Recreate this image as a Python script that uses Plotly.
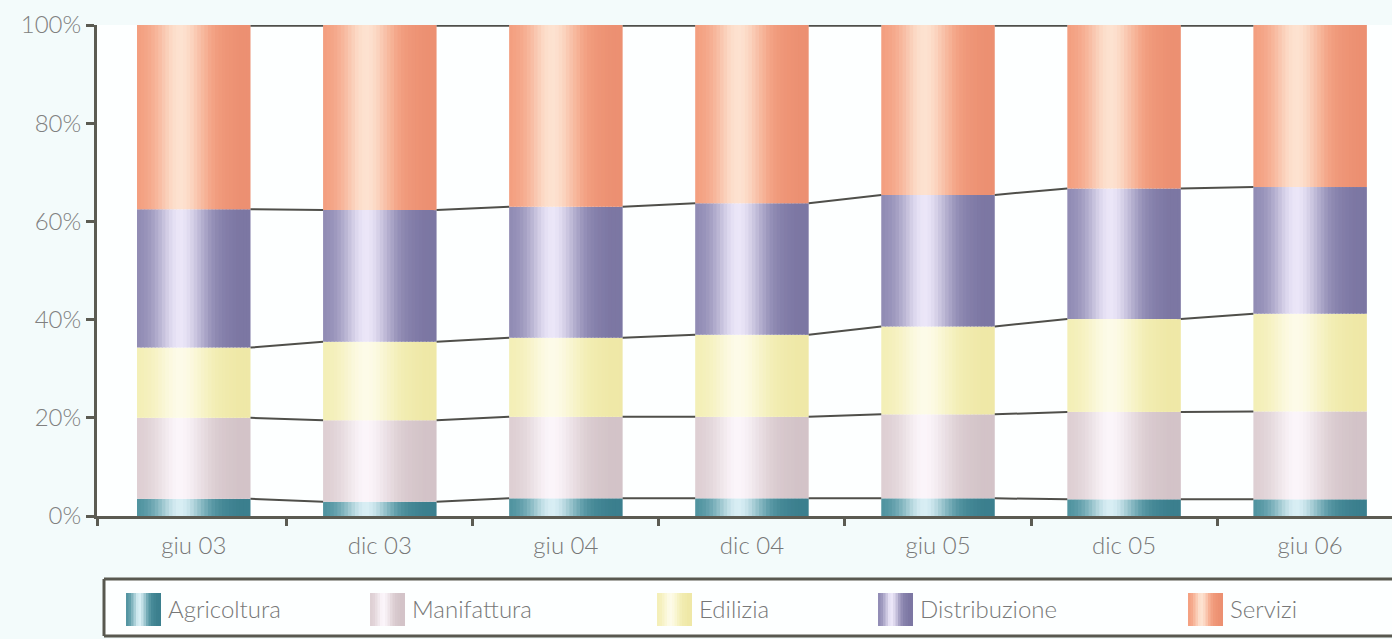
import numpy as np
import plotly.graph_objects as go

categories = ["giu 03", "dic 03", "giu 04", "dic 04", "giu 05", "dic 05", "giu 06"]
agricoltura = [3.5, 2.9, 3.6, 3.6, 3.6, 3.4, 3.4]
manifattura = [16.5, 16.6, 16.6, 16.6, 17.1, 17.8, 17.9]
edilizia = [14.3, 16.0, 16.1, 16.7, 17.9, 18.9, 19.9]
distribuzione = [28.2, 26.8, 26.7, 26.8, 26.8, 26.6, 25.8]
servizi = [37.5, 37.7, 37.0, 36.3, 34.6, 33.3, 33.0]
y_ticks = [0, 20, 40, 60, 80, 100]

series = [
    ("Agricoltura", agricoltura, "#4a8f9c", "#d8eef4", "#2f7282"),
    ("Manifattura", manifattura, "#dccdd1", "#fbf5fa", "#cbbbc0"),
    ("Edilizia", edilizia, "#f3eeb4", "#fdfbe8", "#ebe39c"),
    ("Distribuzione", distribuzione, "#8c87b1", "#ebe6f8", "#6f6997"),
    ("Servizi", servizi, "#f39c7c", "#fde2d0", "#e6876a"),
]

def hex2rgb(h):
    h = h.lstrip("#")
    return np.array([int(h[i:i + 2], 16) for i in (0, 2, 4)], dtype=float)

def rgb2str(c):
    c = np.clip(np.round(c), 0, 255).astype(int)
    return f"rgb({c[0]},{c[1]},{c[2]})"

def shade(base_c, hi_c, dark_c, t):
    b = hex2rgb(base_c); h = hex2rgb(hi_c); d = hex2rgb(dark_c)
    g = np.exp(-((t - 0.38) / 0.21) ** 2)
    col = b + (h - b) * g
    s = np.clip((t - 0.6) / 0.3, 0, 1) * 0.55
    return rgb2str(col + (d - col) * s)

xpos = np.arange(len(categories))
bar_w = 0.61
n_strips = 32
strip_w = bar_w / n_strips

fig = go.Figure()

values = np.array([s[1] for s in series], dtype=float)
cum_top = np.cumsum(values, axis=0)
cum_base = cum_top - values

for si, (name, vals, base_c, hi_c, dark_c) in enumerate(series):
    for k in range(n_strips):
        t = (k + 0.5) / n_strips
        fig.add_trace(go.Bar(
            x=xpos, y=vals, base=cum_base[si],
            width=strip_w * 1.3 if k < n_strips - 1 else strip_w,
            offset=-bar_w / 2 + k * strip_w,
            marker=dict(color=shade(base_c, hi_c, dark_c, t), line=dict(width=0)),
            showlegend=False, hoverinfo="skip",
        ))

# connecting lines between bars at each boundary
levels = list(cum_top)
for li, lev in enumerate(levels):
    xs, ys = [], []
    for i in range(len(categories) - 1):
        xs += [xpos[i] + bar_w / 2, xpos[i + 1] - bar_w / 2, None]
        ys += [lev[i], lev[i + 1], None]
    is_top = li == len(levels) - 1
    fig.add_trace(go.Scatter(
        x=xs, y=ys, mode="lines",
        line=dict(color="#4f4f4a", width=3.5 if is_top else 2),
        showlegend=False, hoverinfo="skip", cliponaxis=False,
    ))

axis_col = "#5b5b52"
W, H = 1392, 639
ml, mr, mt, mb = 97, 0, 25, 123
pw = W - ml - mr
ph = H - mt - mb
xr = [-0.52, 6.44]

def px_x(p):
    return (p - ml) / pw

def px_y(p):
    return (H - mb - p) / ph

# legend layout (pixel placement of entries)
legend_text_x = [168, 412, 699, 920, 1230]
legend_mid_y = 609
sw_w, sw_gap = 35, 7
sw_y0, sw_y1 = 593, 626
box_l, box_t, box_b, box_r = 104, 579, 636, W

border = dict(color="#58584f", width=3)
shapes = [
    dict(type="rect", xref="paper", yref="paper",
         x0=px_x(box_l), x1=px_x(box_r), y0=px_y(box_b), y1=px_y(box_t),
         line=dict(width=0, color="rgba(0,0,0,0)"), fillcolor="#fdffff", layer="below"),
    dict(type="line", xref="paper", yref="paper",
         x0=px_x(box_l), x1=px_x(box_r), y0=px_y(box_t), y1=px_y(box_t), line=border),
    dict(type="line", xref="paper", yref="paper",
         x0=px_x(box_l), x1=px_x(box_r), y0=px_y(box_b), y1=px_y(box_b), line=border),
    dict(type="line", xref="paper", yref="paper",
         x0=px_x(box_l), x1=px_x(box_l), y0=px_y(box_b), y1=px_y(box_t), line=border),
]
legends = {}
n_sw = 14
text_font = dict(family="Lato, Open Sans, sans-serif", size=24, color="#777777", weight=300)
for i, (name, vals, base_c, hi_c, dark_c) in enumerate(series):
    key = "legend" if i == 0 else f"legend{i + 1}"
    fig.add_trace(go.Scatter(
        x=[None], y=[None], mode="markers", name=name, legend=key,
        marker=dict(symbol="square", size=1, color="rgba(0,0,0,0)"),
    ))
    legends[key] = dict(
        orientation="h", x=px_x(legend_text_x[i] - 40), y=px_y(legend_mid_y),
        xanchor="left", yanchor="middle",
        bgcolor="rgba(0,0,0,0)", borderwidth=0,
        font=text_font,
    )
    x0 = legend_text_x[i] - sw_gap - sw_w
    for k in range(n_sw):
        t = (k + 0.5) / n_sw
        shapes.append(dict(
            type="rect", xref="paper", yref="paper",
            x0=px_x(x0 + k * sw_w / n_sw),
            x1=px_x(x0 + (k + 1.3) * sw_w / n_sw if k < n_sw - 1 else x0 + sw_w),
            y0=px_y(sw_y1), y1=px_y(sw_y0),
            line=dict(width=0), fillcolor=shade(base_c, hi_c, dark_c, t), layer="above",
        ))

fig.update_layout(
    width=W, height=H,
    margin=dict(l=ml, r=mr, t=mt, b=mb),
    barmode="overlay",
    paper_bgcolor="#f3fbfb",
    plot_bgcolor="#fdffff",
    font=dict(family="Lato, Open Sans, sans-serif", color="#777777", weight=300),
    xaxis=dict(
        range=xr, tickmode="array", tickvals=list(xpos), ticktext=categories,
        showgrid=False, zeroline=False, showline=True, linecolor=axis_col, linewidth=3,
        ticks="outside", ticklen=6, tickcolor="rgba(0,0,0,0)",
        tickfont=text_font,
    ),
    xaxis2=dict(
        range=xr, overlaying="x", anchor="y", side="bottom",
        tickmode="array", tickvals=[-0.52] + [i + 0.5 for i in range(len(categories) - 1)],
        showticklabels=False, ticks="outside", ticklen=9, tickwidth=3, tickcolor=axis_col,
        showgrid=False, zeroline=False, showline=False,
    ),
    yaxis=dict(
        range=[0, 100], tickmode="array", tickvals=y_ticks,
        ticktext=[f"{v}%" for v in y_ticks],
        showgrid=False, zeroline=False, showline=True, linecolor=axis_col, linewidth=3,
        ticks="outside", ticklen=8, tickwidth=3, tickcolor=axis_col,
        tickfont=dict(text_font, color="#808080"),
    ),
    showlegend=True,
    shapes=shapes,
    **legends,
)
# dummy trace to activate xaxis2
fig.add_trace(go.Scatter(x=[None], y=[None], xaxis="x2", showlegend=False, hoverinfo="skip"))

fig.write_html(
    "out.html",
    config={"displayModeBar": False},
    post_script="document.body.style.margin='0';document.body.style.overflow='hidden';",
)
